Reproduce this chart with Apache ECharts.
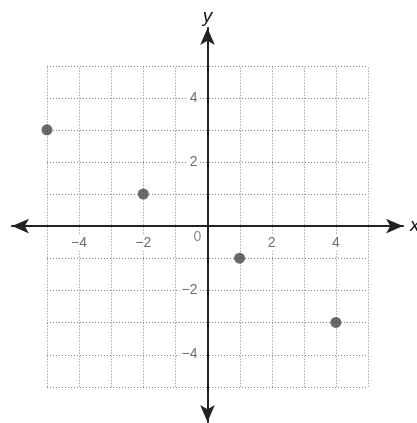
<!DOCTYPE html>
<html>
<head>
<meta charset="utf-8">
<script src="https://cdn.jsdelivr.net/npm/echarts@6/dist/echarts.min.js"></script>
<style>
html,body{margin:0;padding:0;background:#fff;}
#chart{width:417px;height:423px;}
</style>
</head>
<body>
<div id="chart"></div>
<script>
// Data
const pointsX = [-5, -2, 1, 4];
const pointsY = [3, 1, -1, -3];
const gridValues = [-5, -4, -3, -2, -1, 0, 1, 2, 3, 4, 5];
const xTickLabels = [-4, -2, 2, 4];
const yTickLabels = [-4, -2, 2, 4];
const originLabel = '0';

const fmt = v => (v < 0 ? '\u2212' + Math.abs(v) : String(v));
const labelStyle = {
  color: '#6e6e6e',
  fontSize: 14,
  fontFamily: 'Liberation Sans, Arial, sans-serif',
  backgroundColor: '#fff',
  padding: [1, 2]
};

const G = { left: 12, right: 14, top: 28, bottom: 1 };
const W = 417, H = 423;
const xMin = -6.09, xMax = 6.09, yMin = -6.1, yMax = 6.17;
// shift of axes from grid edges to the zero lines
const xAxisShift = -((H - G.top - G.bottom) * (0 - yMin) / (yMax - yMin));
const yAxisShift = -((W - G.left - G.right) * (0 - xMin) / (xMax - xMin));

const chart = echarts.init(document.getElementById('chart'));
chart.setOption({
  animation: false,
  backgroundColor: '#fff',
  grid: Object.assign({ outerBoundsMode: 'none', containLabel: false }, G),
  xAxis: {
    type: 'value',
    min: xMin, max: xMax,
    position: 'bottom',
    offset: xAxisShift,
    z: 5,
    name: 'x',
    nameLocation: 'end',
    nameGap: 7,
    nameTextStyle: { fontStyle: 'italic', fontSize: 19, color: '#111', fontFamily: 'Liberation Sans, Arial, sans-serif', verticalAlign: 'middle' },
    axisLine: { onZero: false, symbol: ['arrow', 'arrow'], symbolSize: [11, 17], lineStyle: { color: '#222', width: 2 } },
    axisTick: { show: false },
    splitLine: { show: false },
    axisLabel: Object.assign({ customValues: xTickLabels, formatter: fmt, margin: 9 }, labelStyle)
  },
  yAxis: {
    type: 'value',
    min: yMin, max: yMax,
    position: 'left',
    offset: yAxisShift,
    z: 5,
    name: 'y',
    nameLocation: 'end',
    nameGap: 2,
    nameTextStyle: { fontStyle: 'italic', fontSize: 19, color: '#111', fontFamily: 'Liberation Sans, Arial, sans-serif' },
    axisLine: { onZero: false, symbol: ['arrow', 'arrow'], symbolSize: [11, 17], lineStyle: { color: '#222', width: 2 } },
    axisTick: { show: false },
    splitLine: { show: false },
    axisLabel: Object.assign({ customValues: yTickLabels, formatter: fmt, margin: 8 }, labelStyle)
  },
  series: [
    {
      type: 'custom',
      z: 1,
      silent: true,
      data: gridValues,
      renderItem: function (params, api) {
        const k = api.value(0);
        const min = gridValues[0], max = gridValues[gridValues.length - 1];
        const v0 = api.coord([k, min]), v1 = api.coord([k, max]);
        const h0 = api.coord([min, k]), h1 = api.coord([max, k]);
        const style = { stroke: '#808080', lineWidth: 1, lineDash: [1, 2] };
        return {
          type: 'group',
          children: [
            { type: 'line', shape: { x1: Math.round(v0[0]) + 0.5, y1: v0[1], x2: Math.round(v1[0]) + 0.5, y2: v1[1] }, style: style },
            { type: 'line', shape: { x1: h0[0], y1: Math.round(h0[1]) + 0.5, x2: h1[0], y2: Math.round(h1[1]) + 0.5 }, style: style }
          ]
        };
      }
    },
    {
      type: 'scatter',
      z: 10,
      symbol: 'circle',
      symbolSize: 11,
      itemStyle: { color: '#454545' },
      data: pointsX.map((x, i) => [x, pointsY[i]])
    },
    {
      type: 'scatter',
      z: 4,
      symbolSize: 0,
      silent: true,
      data: [[0, 0]],
      label: Object.assign({ show: true, position: 'inside', offset: [-10, 11], formatter: originLabel }, labelStyle)
    }
  ]
});
</script>
</body>
</html>
